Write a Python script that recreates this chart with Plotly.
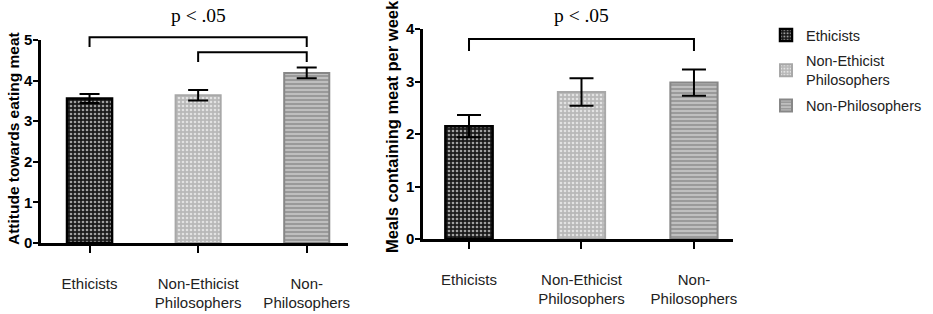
import plotly.graph_objects as go

categories = ["Ethicists", "Non-Ethicist<br>Philosophers", "Non-<br>Philosophers"]
legend_names = ["Ethicists", "Non-Ethicist<br>Philosophers", "Non-Philosophers"]
attitude = [3.56, 3.64, 4.19]
attitude_err = [0.11, 0.13, 0.13]
meals = [2.15, 2.80, 2.98]
meals_err = [0.21, 0.26, 0.25]
sig_label = "p < .05"

W, H = 933, 314
FONT = "Arial, Liberation Sans, Helvetica, sans-serif"
SERIF = "Times New Roman, Liberation Serif, serif"

styles = [
    dict(bg="#1a1a1a", fg="#a0a0a0", shape=".", line="#000000", lw=2.5),
    dict(bg="#b8b8b8", fg="#e2e2e2", shape=".", line="#a8a8a8", lw=2),
    dict(bg="#9a9a9a", fg="#cfcfcf", shape="-", line="#878787", lw=2),
]

# axis geometry (pixel based domains)
x1dom = [41 / W, 348 / W]
y1dom = [1 - 243 / H, 1 - 40 / H]
x1rng = [-0.447, 2.38]
y1rng = [0, 5]
x2dom = [423 / W, 733 / W]
y2dom = [1 - 239 / H, 1 - 29 / H]
x2rng = [-0.409, 2.347]
y2rng = [0, 4]


def to_px(v, dom, rng):
    return dom[0] + (v - rng[0]) / (rng[1] - rng[0]) * (dom[1] - dom[0])


fig = go.Figure()
xs = [0, 1, 2]
for i in range(3):
    s = styles[i]
    marker = dict(
        color=s["bg"],
        line=dict(color=s["line"], width=s["lw"]),
        pattern=dict(shape=s["shape"], fgcolor=s["fg"], bgcolor=s["bg"],
                     size=4, solidity=0.35, fillmode="replace"),
    )
    fig.add_trace(go.Bar(
        x=[xs[i]], y=[attitude[i]], width=0.415, name=legend_names[i],
        marker=marker, xaxis="x", yaxis="y", showlegend=True,
        legendgroup=f"g{i}",
        error_y=dict(type="data", array=[attitude_err[i]], color="black",
                     thickness=2, width=10),
    ))
    fig.add_trace(go.Bar(
        x=[xs[i]], y=[meals[i]], width=0.42, name=legend_names[i],
        marker=marker, xaxis="x2", yaxis="y2", showlegend=False,
        legendgroup=f"g{i}",
        error_y=dict(type="data", array=[meals_err[i]], color="black",
                     thickness=2, width=12),
    ))

axis_common = dict(showgrid=False, zeroline=False, showline=True, automargin=False,
                   linecolor="black", linewidth=2.5, mirror=False)
xaxis_common = dict(axis_common, tickmode="array", tickvals=xs, ticktext=categories,
                    ticks="outside", ticklen=7, tickwidth=2, tickcolor="black",
                    ticklabelstandoff=18,
                    tickfont=dict(family=FONT, size=15, color="#222"))
yaxis_common = dict(axis_common, dtick=1, ticks="outside", ticklen=5, tickwidth=2,
                    tickcolor="black", ticklabelstandoff=-2,
                    tickfont=dict(family=FONT, size=15, color="black", weight="bold"))

fig.update_layout(
    width=W, height=H,
    margin=dict(l=0, r=0, t=0, b=0),
    paper_bgcolor="white", plot_bgcolor="white",
    barmode="overlay",
    xaxis=dict(xaxis_common, domain=x1dom, range=x1rng, anchor="y"),
    yaxis=dict(yaxis_common, domain=y1dom, range=y1rng, anchor="x"),
    xaxis2=dict(xaxis_common, domain=x2dom, range=x2rng, anchor="y2"),
    yaxis2=dict(yaxis_common, domain=y2dom, range=y2rng, anchor="x2"),
    legend=dict(x=766 / W, y=1 - 19 / H, xanchor="left", yanchor="top",
                font=dict(family=FONT, size=14.5, color="#222"),
                bgcolor="rgba(0,0,0,0)", tracegroupgap=4),
    showlegend=True,
)

# y axis titles as annotations
fig.add_annotation(text="<b>Attitude towards eating meat</b>", x=13 / W,
                   y=1 - 139 / H, xref="paper", yref="paper",
                   xanchor="center", yanchor="middle",
                   textangle=-90, showarrow=False,
                   font=dict(family=FONT, size=15.5, color="black"))
fig.add_annotation(text="<b>Meals containing meat per week</b>", x=392 / W,
                   y=1 - 127 / H, xref="paper", yref="paper",
                   xanchor="center", yanchor="middle",
                   textangle=-90, showarrow=False,
                   font=dict(family=FONT, size=16.5, color="black"))


def bracket(x0, x1, ytop, yleg, xdom, xrng, ydom, yrng):
    px0 = to_px(x0, xdom, xrng)
    px1 = to_px(x1, xdom, xrng)
    pt = to_px(ytop, ydom, yrng)
    pl = to_px(yleg, ydom, yrng)
    fig.add_shape(type="path", xref="paper", yref="paper",
                  path=f"M{px0},{pl} L{px0},{pt} L{px1},{pt} L{px1},{pl}",
                  line=dict(color="black", width=2))


bracket(0, 2, 5.07, 4.83, x1dom, x1rng, y1dom, y1rng)
bracket(1, 2, 4.70, 4.46, x1dom, x1rng, y1dom, y1rng)
bracket(0, 2, 3.81, 3.58, x2dom, x2rng, y2dom, y2rng)

fig.add_annotation(text=sig_label, xref="paper", yref="paper",
                   x=to_px(1, x1dom, x1rng), y=to_px(5.60, y1dom, y1rng),
                   xanchor="center", yanchor="middle",
                   showarrow=False, font=dict(family=SERIF, size=19.5, color="black"))
fig.add_annotation(text=sig_label, xref="paper", yref="paper",
                   x=to_px(1, x2dom, x2rng), y=to_px(4.25, y2dom, y2rng),
                   xanchor="center", yanchor="middle",
                   showarrow=False, font=dict(family=SERIF, size=19.5, color="black"))

fig.write_html("out.html", config={"displayModeBar": False},
               post_script="document.body.style.margin='0';document.body.style.overflow='hidden';")
